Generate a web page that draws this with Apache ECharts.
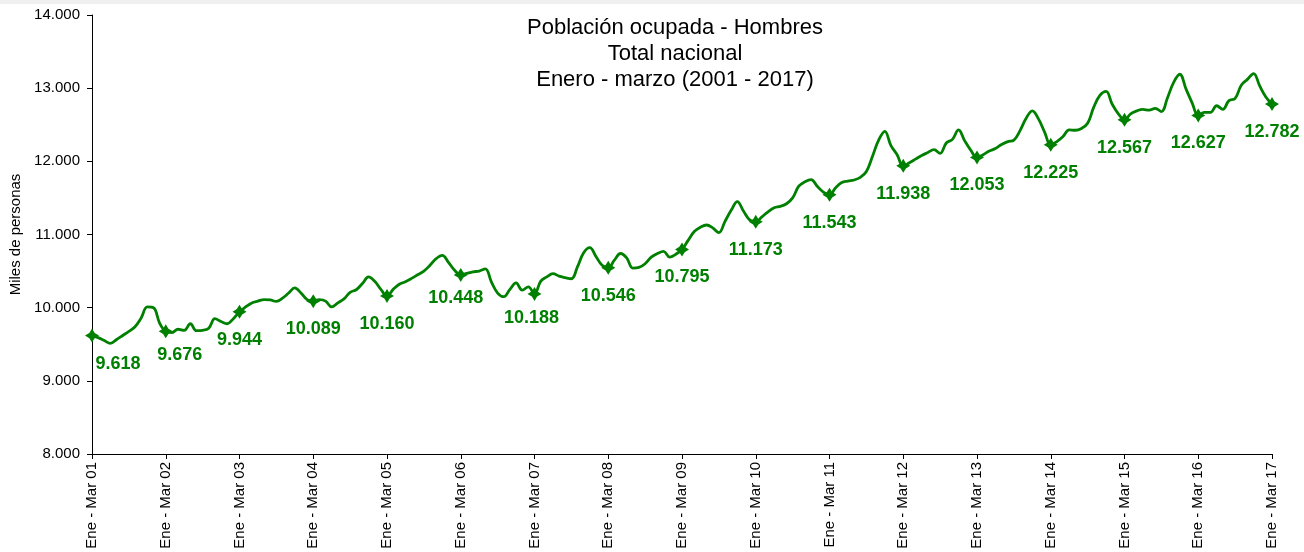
<!DOCTYPE html>
<html><head><meta charset="utf-8">
<script src="https://cdn.jsdelivr.net/npm/echarts@6/dist/echarts.min.js"></script>
<style>html,body{margin:0;padding:0;background:#fff}#c{width:1304px;height:552px}</style>
</head><body><div id="c"></div>
<script>
// Monthly rolling-quarter values (miles de personas); each year starts at "Ene - Mar"
const y2001 = [9618, 9590, 9550, 9513, 9565, 9620, 9675, 9740, 9860, 10010, 10000, 9790];
const y2002 = [9676, 9660, 9705, 9690, 9780, 9685, 9690, 9720, 9850, 9810, 9780, 9850];
const y2003 = [9944, 10010, 10065, 10090, 10110, 10105, 10085, 10130, 10200, 10270, 10200, 10110];
const y2004 = [10089, 10110, 10090, 10010, 10065, 10120, 10210, 10245, 10330, 10420, 10360, 10250];
const y2005 = [10160, 10250, 10320, 10355, 10400, 10450, 10500, 10580, 10670, 10715, 10620, 10510];
const y2006 = [10448, 10470, 10490, 10500, 10530, 10350, 10200, 10150, 10250, 10340, 10240, 10285];
const y2007 = [10188, 10360, 10420, 10465, 10430, 10410, 10395, 10560, 10750, 10820, 10700, 10580];
const y2008 = [10546, 10650, 10740, 10680, 10540, 10550, 10600, 10690, 10740, 10770, 10690, 10730];
const y2009 = [10795, 10920, 11040, 11100, 11130, 11090, 11025, 11180, 11330, 11450, 11320, 11200];
const y2010 = [11173, 11240, 11310, 11365, 11385, 11420, 11500, 11660, 11720, 11750, 11660, 11580];
const y2011 = [11543, 11640, 11710, 11730, 11745, 11780, 11860, 12070, 12290, 12410, 12215, 12090];
const y2012 = [11938, 11980, 12030, 12080, 12120, 12160, 12110, 12250, 12300, 12430, 12280, 12150];
const y2013 = [12053, 12090, 12140, 12175, 12230, 12270, 12290, 12420, 12590, 12690, 12580, 12400];
const y2014 = [12225, 12270, 12340, 12430, 12425, 12450, 12520, 12740, 12900, 12955, 12780, 12650];
const y2015 = [12567, 12650, 12690, 12710, 12700, 12725, 12680, 12870, 13080, 13190, 12990, 12800];
const y2016 = [12627, 12670, 12670, 12760, 12710, 12830, 12860, 13040, 13120, 13200, 13030, 12880];
const y2017 = [12782];

const monthNames = ['Ene','Feb','Mar','Abr','May','Jun','Jul','Ago','Sep','Oct','Nov','Dic'];
const titleLines = ['Población ocupada - Hombres', 'Total nacional', 'Enero - marzo (2001 - 2017)'];
const yAxisName = 'Miles de personas';
const yMin = 8000, yMax = 14000, yStep = 1000;

// label nudges (pixels) for a few crowded labels
const labelNudge = {0: [26, 0], 12: [14, -4], 60: [-5, -5], 72: [-3, -4]};

const values = [].concat(y2001, y2002, y2003, y2004, y2005, y2006, y2007, y2008,
  y2009, y2010, y2011, y2012, y2013, y2014, y2015, y2016, y2017);

const categories = values.map((v, i) => {
  const s = i % 12, yr = 2001 + Math.floor(i / 12);
  const e = (s + 2) % 12, eyr = yr + (s + 2 >= 12 ? 1 : 0);
  return monthNames[s] + ' - ' + monthNames[e] + ' ' + String(eyr % 100).padStart(2, '0');
});

const fmt = v => String(v).replace(/\B(?=(\d{3})+(?!\d))/g, '.');
const markerPath = 'path://M0,-10 L3.8,-3.8 L10,0 L3.8,3.8 L0,10 L-3.8,3.8 L-10,0 L-3.8,-3.8 Z';
const green = '#008000';
const FONT = 'Liberation Sans, Arial, sans-serif';

const seriesData = values.map((v, i) => {
  if (i % 12 !== 0) return {value: v, symbol: 'none'};
  const nd = labelNudge[i] || [0, 0];
  return {
    value: v,
    symbol: markerPath,
    symbolSize: 14,
    label: {show: true, position: 'bottom', distance: 12, offset: nd,
      formatter: p => fmt(p.value), color: green, fontWeight: 'bold', fontSize: 18,
      fontFamily: FONT}
  };
});

const chart = echarts.init(document.getElementById('c'), null, {renderer: 'canvas'});
chart.setOption({
  backgroundColor: '#ffffff',
  animation: false,
  textStyle: {fontFamily: FONT},
  graphic: [{type: 'rect', shape: {x: 0, y: 0, width: 1304, height: 4}, style: {fill: '#f0f0f0'}, silent: true}],
  title: {
    text: titleLines.join('\n'),
    left: 675, top: 15, textAlign: 'center', padding: 0,
    textStyle: {fontSize: 22, fontWeight: 'normal', color: '#000', lineHeight: 26, fontFamily: FONT}
  },
  grid: {left: 92, right: 32, top: 15, bottom: 98, containLabel: false},
  xAxis: {
    type: 'category', data: categories, boundaryGap: false,
    axisLine: {lineStyle: {color: '#000', width: 1}},
    axisTick: {show: true, length: 5, inside: false, interval: i => i % 12 === 0, lineStyle: {color: '#000'}},
    axisLabel: {interval: i => i % 12 === 0, rotate: 90, fontSize: 15, color: '#000', margin: 8, fontFamily: FONT},
    splitLine: {show: false}
  },
  yAxis: {
    type: 'value', min: yMin, max: yMax, interval: yStep,
    name: yAxisName, nameLocation: 'middle', nameGap: 67, nameRotate: 90,
    nameTextStyle: {fontSize: 15, color: '#000', fontFamily: FONT},
    axisLine: {show: true, lineStyle: {color: '#000', width: 1}},
    axisTick: {show: true, length: 5, inside: false, lineStyle: {color: '#000'}},
    axisLabel: {formatter: v => fmt(v), fontSize: 15, color: '#000', margin: 12, fontFamily: FONT},
    splitLine: {show: false}
  },
  series: [{
    type: 'line', data: seriesData, smooth: 0.4,
    showSymbol: true, showAllSymbol: true,
    lineStyle: {color: green, width: 2.8},
    itemStyle: {color: green},
    label: {show: false},
    emphasis: {disabled: true}
  }]
});
</script></body></html>
